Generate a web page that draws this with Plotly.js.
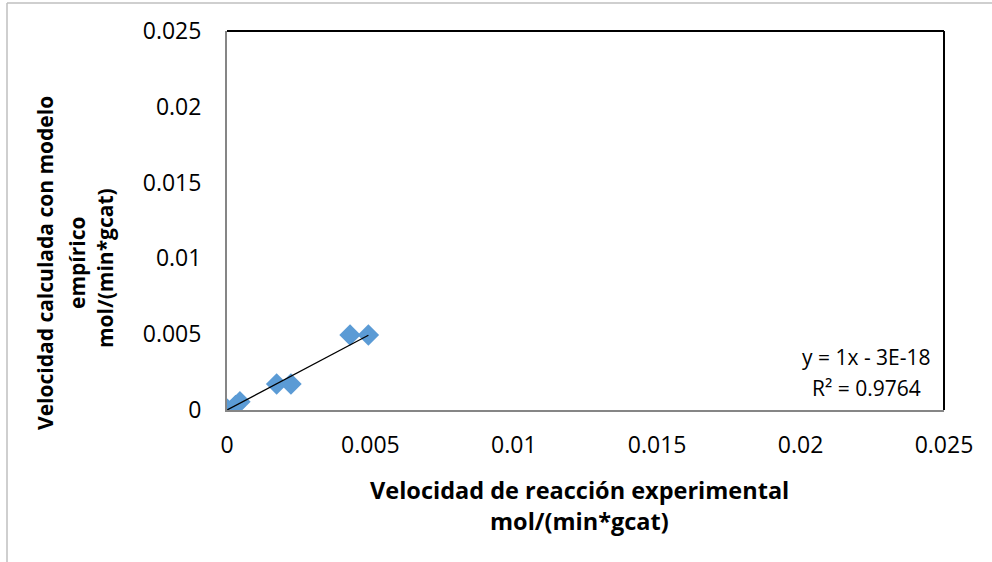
<!DOCTYPE html>
<html>
<head>
<meta charset="utf-8">
<script src="https://cdn.plot.ly/plotly-3.0.1.min.js"></script>
<style>html,body{margin:0;padding:0;background:#fff;}#chart{width:992px;height:562px;}</style>
</head>
<body>
<div id="chart"></div>
<script>
// Data
const experimental = [0.00001, 0.0003, 0.00045, 0.00173, 0.00223, 0.00429, 0.00493];
const calculated   = [0.00005, 0.0003, 0.00055, 0.00172, 0.00172, 0.00495, 0.00495];
const trendSlope = 1;
const trendIntercept = -3e-18;
const tickValues = [0, 0.005, 0.01, 0.015, 0.02, 0.025];
const tickLabels = ['0', '0.005', '0.01', '0.015', '0.02', '0.025'];
const xTitle = ['Velocidad de reacción experimental', 'mol/(min*gcat)'];
const yTitle = ['Velocidad calculada con modelo', 'empírico', 'mol/(min*gcat)'];
const equationText = ['y = 1x - 3E-18', 'R² = 0.9764'];

const W = 992, H = 562;
const M = {l: 227, r: 48, t: 31, b: 152};
const pw = W - M.l - M.r, ph = H - M.t - M.b;
const px = x => (x - M.l) / pw;
const py = y => (H - M.b - y) / ph;

const xMin = Math.min(...experimental), xMax = Math.max(...experimental);
const trendX = [xMin, xMax];
const trendY = trendX.map(x => trendSlope * x + trendIntercept);

const FONT = 'Open Sans, sans-serif';

const traces = [
  {
    x: experimental, y: calculated, type: 'scatter', mode: 'markers',
    marker: {symbol: 'diamond', size: 16.5, color: '#5B9BD5', line: {width: 0}},
    hoverinfo: 'x+y', showlegend: false
  },
  {
    x: trendX, y: trendY, type: 'scatter', mode: 'lines',
    line: {color: '#000000', width: 1.3}, showlegend: false, hoverinfo: 'skip'
  }
];

const layout = {
  width: W, height: H,
  margin: M,
  paper_bgcolor: '#ffffff', plot_bgcolor: '#ffffff',
  font: {family: FONT, color: '#000000', size: 20},
  showlegend: false,
  xaxis: {
    range: [0, 0.025], tickvals: tickValues, ticktext: tickLabels,
    showgrid: false, zeroline: false, showline: true, linecolor: '#868686', linewidth: 2,
    ticks: '', ticklabelstandoff: 13, tickfont: {family: FONT, size: 23, color: '#000'}
  },
  yaxis: {
    range: [0, 0.025], tickvals: tickValues, ticktext: tickLabels,
    showgrid: false, zeroline: false, showline: true, linecolor: '#868686', linewidth: 2,
    ticks: '', ticklabelstandoff: 19, tickfont: {family: FONT, size: 23, color: '#000'}
  },
  shapes: [
    {type: 'line', xref: 'paper', yref: 'paper', x0: 0, x1: 1, y0: 1, y1: 1, line: {color: '#000', width: 2}},
    {type: 'line', xref: 'paper', yref: 'paper', x0: 1, x1: 1, y0: 0, y1: 1, line: {color: '#000', width: 2}},
    {type: 'line', xref: 'paper', yref: 'paper', x0: px(7), x1: px(992), y0: py(3), y1: py(3), line: {color: '#BFBFBF', width: 1.5}},
    {type: 'line', xref: 'paper', yref: 'paper', x0: px(7), x1: px(7), y0: py(3), y1: py(562), line: {color: '#BFBFBF', width: 1.5}}
  ],
  annotations: [
    {xref: 'paper', yref: 'paper', x: px(579), y: py(490), text: '<b>' + xTitle[0] + '</b>', showarrow: false,
     font: {family: FONT, size: 23.5}, xanchor: 'center', yanchor: 'middle'},
    {xref: 'paper', yref: 'paper', x: px(579), y: py(521), text: '<b>' + xTitle[1] + '</b>', showarrow: false,
     font: {family: FONT, size: 23.5}, xanchor: 'center', yanchor: 'middle'},
    {xref: 'paper', yref: 'paper', x: px(45), y: py(263), text: '<b>' + yTitle[0] + '</b>', showarrow: false, textangle: -90,
     font: {family: FONT, size: 21}, xanchor: 'center', yanchor: 'middle'},
    {xref: 'paper', yref: 'paper', x: px(77), y: py(263), text: '<b>' + yTitle[1] + '</b>', showarrow: false, textangle: -90,
     font: {family: FONT, size: 21}, xanchor: 'center', yanchor: 'middle'},
    {xref: 'paper', yref: 'paper', x: px(105), y: py(268), text: '<b>' + yTitle[2] + '</b>', showarrow: false, textangle: -90,
     font: {family: FONT, size: 21}, xanchor: 'center', yanchor: 'middle'},
    {xref: 'paper', yref: 'paper', x: px(866), y: py(357), text: equationText[0], showarrow: false,
     font: {family: FONT, size: 21}, xanchor: 'center', yanchor: 'middle'},
    {xref: 'paper', yref: 'paper', x: px(866), y: py(388), text: equationText[1], showarrow: false,
     font: {family: FONT, size: 21}, xanchor: 'center', yanchor: 'middle'}
  ]
};

Plotly.newPlot('chart', traces, layout, {displayModeBar: false, staticPlot: true});
</script>
</body>
</html>
